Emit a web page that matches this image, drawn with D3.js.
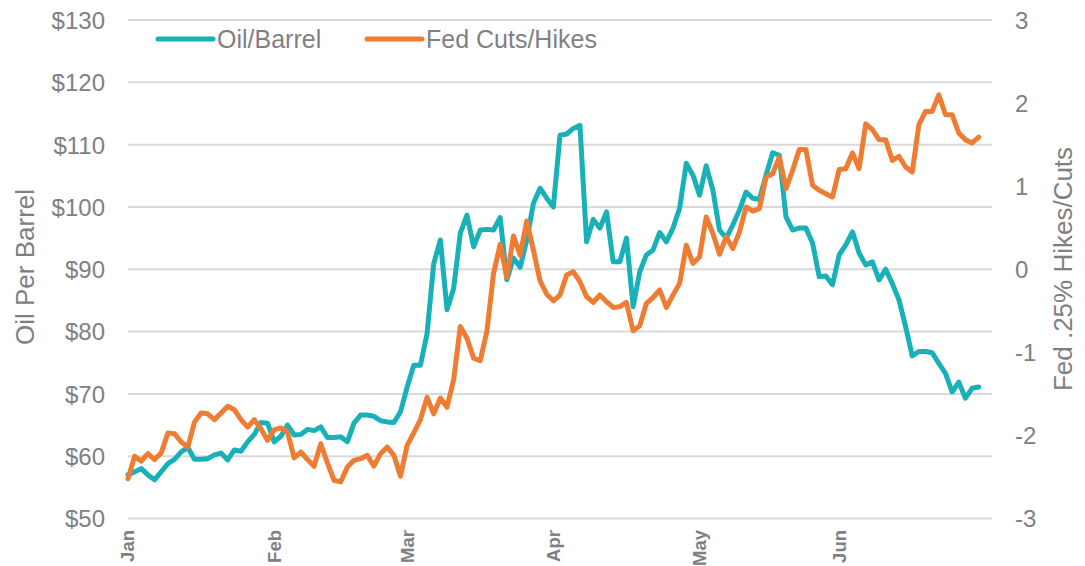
<!DOCTYPE html>
<html>
<head>
<meta charset="utf-8">
<script src="https://cdn.jsdelivr.net/npm/d3@7"></script>
<style>
  body { margin: 0; background: #fff; }
  svg { display: block; font-family: "Liberation Sans", Arial, sans-serif; }
</style>
</head>
<body>
<svg id="chart" width="1085" height="566"></svg>
<script>
// month labels on the x axis and the trading day where each starts
let monthLabels = ["Jan", "Feb", "Mar", "Apr", "May", "Jun"];
let monthStarts = [0, 22, 42, 64, 86, 107];

let oilTicks = [50, 60, 70, 80, 90, 100, 110, 120, 130];
let fedTicks = [-3, -2, -1, 0, 1, 2, 3];

// oil price per barrel, one value per trading day
let oil = [
  57.0, 57.5, 58.0, 57.0, 56.2, 57.5, 58.8, 59.5, 60.7, 61.4,
  59.5, 59.5, 59.6, 60.2, 60.5, 59.4, 61.0, 60.8, 62.3, 63.5,
  65.4, 65.3, 62.3, 63.2, 65.0, 63.4, 63.5, 64.3, 64.1, 64.7,
  63.0, 63.0, 63.1, 62.3, 65.3, 66.6, 66.6, 66.4, 65.7, 65.5,
  65.4, 67.1, 71.1, 74.6, 74.6, 79.7, 90.9, 94.7, 83.5, 86.9,
  95.8, 98.7, 93.6, 96.3, 96.4, 96.3, 98.3, 88.3, 91.8, 90.3,
  94.7, 100.6, 103.0, 101.4, 100.0, 111.5, 111.7, 112.6, 113.1, 94.4,
  98.0, 96.6, 99.2, 91.2, 91.2, 95.0, 84.0, 89.6, 92.3, 93.1,
  95.9, 94.4, 96.6, 99.8, 107.0, 105.1, 101.9, 106.6, 102.7, 96.3,
  95.0, 97.1, 99.5, 102.4, 101.4, 101.2, 105.1, 108.7, 108.3, 98.4,
  96.3, 96.6, 96.6, 94.2, 88.8, 88.9, 87.5, 92.3, 93.9, 96.0,
  92.6, 90.7, 91.2, 88.3, 90.0, 87.7, 85.1, 80.8, 76.1, 76.8,
  76.8, 76.6, 74.9, 73.3, 70.3, 71.9, 69.3, 70.9, 71.1
];

// fed cuts/hikes in .25% steps, same days
let fed = [
  -2.52, -2.25, -2.31, -2.22, -2.29, -2.21, -1.97, -1.98, -2.08, -2.14,
  -1.84, -1.73, -1.74, -1.81, -1.73, -1.65, -1.69, -1.81, -1.90, -1.81,
  -1.92, -2.06, -1.93, -1.91, -1.96, -2.27, -2.20, -2.29, -2.37, -2.10,
  -2.33, -2.54, -2.56, -2.38, -2.30, -2.28, -2.24, -2.37, -2.22, -2.14,
  -2.24, -2.49, -2.12, -1.97, -1.81, -1.54, -1.74, -1.55, -1.66, -1.33,
  -0.69, -0.83, -1.07, -1.10, -0.75, -0.05, 0.30, -0.10, 0.40, 0.17,
  0.58, 0.23, -0.14, -0.30, -0.38, -0.31, -0.07, -0.03, -0.15, -0.33,
  -0.40, -0.31, -0.39, -0.46, -0.45, -0.40, -0.74, -0.68, -0.41, -0.34,
  -0.25, -0.46, -0.31, -0.17, 0.29, 0.07, 0.15, 0.63, 0.43, 0.18,
  0.39, 0.25, 0.45, 0.75, 0.70, 0.73, 1.11, 1.15, 1.35, 0.97,
  1.19, 1.44, 1.44, 1.01, 0.95, 0.91, 0.87, 1.20, 1.21, 1.40,
  1.21, 1.75, 1.68, 1.56, 1.56, 1.31, 1.36, 1.23, 1.17, 1.74,
  1.90, 1.90, 2.10, 1.86, 1.86, 1.64, 1.56, 1.52, 1.59
];

let seriesNames = ["Oil/Barrel", "Fed Cuts/Hikes"];
let colors = ["#19b1b8", "#ee7d33"];
let textGray = "#808083";

let svg = d3.select("#chart");

let plotLeft = 128, plotRight = 992, plotTop = 20, plotBottom = 518.5;

let x = d3.scaleLinear().domain([0, 130]).range([plotLeft, plotRight]);
let yOil = d3.scaleLinear().domain([50, 130]).range([plotBottom, plotTop]);
let yFed = d3.scaleLinear().domain([-3, 3]).range([plotBottom, plotTop]);

//Gridlines
svg.append("g")
  .selectAll("line")
  .data(oilTicks)
  .enter()
  .append("line")
  .attr("x1", plotLeft)
  .attr("x2", plotRight)
  .attr("y1", d => yOil(d))
  .attr("y2", d => yOil(d))
  .attr("stroke", "#d9d9d9")
  .attr("stroke-width", 2);

//Left axis
let leftAxis = svg.append("g")
  .attr("transform", "translate(" + (plotLeft - 23) + ",0)")
  .call(d3.axisLeft(yOil).tickValues(oilTicks).tickSize(0).tickFormat(d => "$" + d));

//Right axis, plain hyphen for negatives like the original
let rightAxis = svg.append("g")
  .attr("transform", "translate(" + (plotRight + 23) + ",0)")
  .call(d3.axisRight(yFed).tickValues(fedTicks).tickSize(0).tickFormat(d => String(d)));

[leftAxis, rightAxis].forEach(function(a) {
  a.select(".domain").remove();
  a.selectAll("text")
    .attr("font-family", "Liberation Sans, Arial, sans-serif")
    .attr("font-size", 24)
    .attr("fill", textGray)
    .attr("x", 0)
    .attr("dy", "0.35em");
});

//Month labels
svg.append("g")
  .selectAll("text")
  .data(monthLabels)
  .enter()
  .append("text")
  .attr("transform", (d, i) => "translate(" + x(monthStarts[i]) + ",530) rotate(-90)")
  .attr("dy", "0.35em")
  .attr("text-anchor", "end")
  .attr("font-size", 18.5)
  .attr("font-weight", "bold")
  .attr("fill", textGray)
  .text(d => d);

//Axis titles
svg.append("text")
  .attr("transform", "translate(25,267) rotate(-90)")
  .attr("dy", "0.35em")
  .attr("text-anchor", "middle")
  .attr("font-size", 26)
  .attr("fill", textGray)
  .text("Oil Per Barrel");

svg.append("text")
  .attr("transform", "translate(1063,269) rotate(-90)")
  .attr("dy", "0.35em")
  .attr("text-anchor", "middle")
  .attr("font-size", 26)
  .attr("fill", textGray)
  .text("Fed .25% Hikes/Cuts");

//Lines
let oilLine = d3.line()
  .x((d, i) => x(i))
  .y(d => yOil(d));

let fedLine = d3.line()
  .x((d, i) => x(i))
  .y(d => yFed(d));

svg.append("path")
  .datum(oil)
  .attr("d", oilLine)
  .attr("fill", "none")
  .attr("stroke", colors[0])
  .attr("stroke-width", 5)
  .attr("stroke-linejoin", "round")
  .attr("stroke-linecap", "round");

svg.append("path")
  .datum(fed)
  .attr("d", fedLine)
  .attr("fill", "none")
  .attr("stroke", colors[1])
  .attr("stroke-width", 5)
  .attr("stroke-linejoin", "round")
  .attr("stroke-linecap", "round");

//Legend
let legendX = [158, 367];
let legend = svg.append("g")
  .selectAll("g")
  .data(seriesNames)
  .enter()
  .append("g")
  .attr("transform", (d, i) => "translate(" + legendX[i] + ",39)");

legend.append("line")
  .attr("x1", 0)
  .attr("x2", 55)
  .attr("stroke", (d, i) => colors[i])
  .attr("stroke-width", 5)
  .attr("stroke-linecap", "round");

legend.append("text")
  .attr("x", 59)
  .attr("dy", "0.35em")
  .attr("font-size", 25)
  .attr("fill", textGray)
  .text(d => d);
</script>
</body>
</html>
